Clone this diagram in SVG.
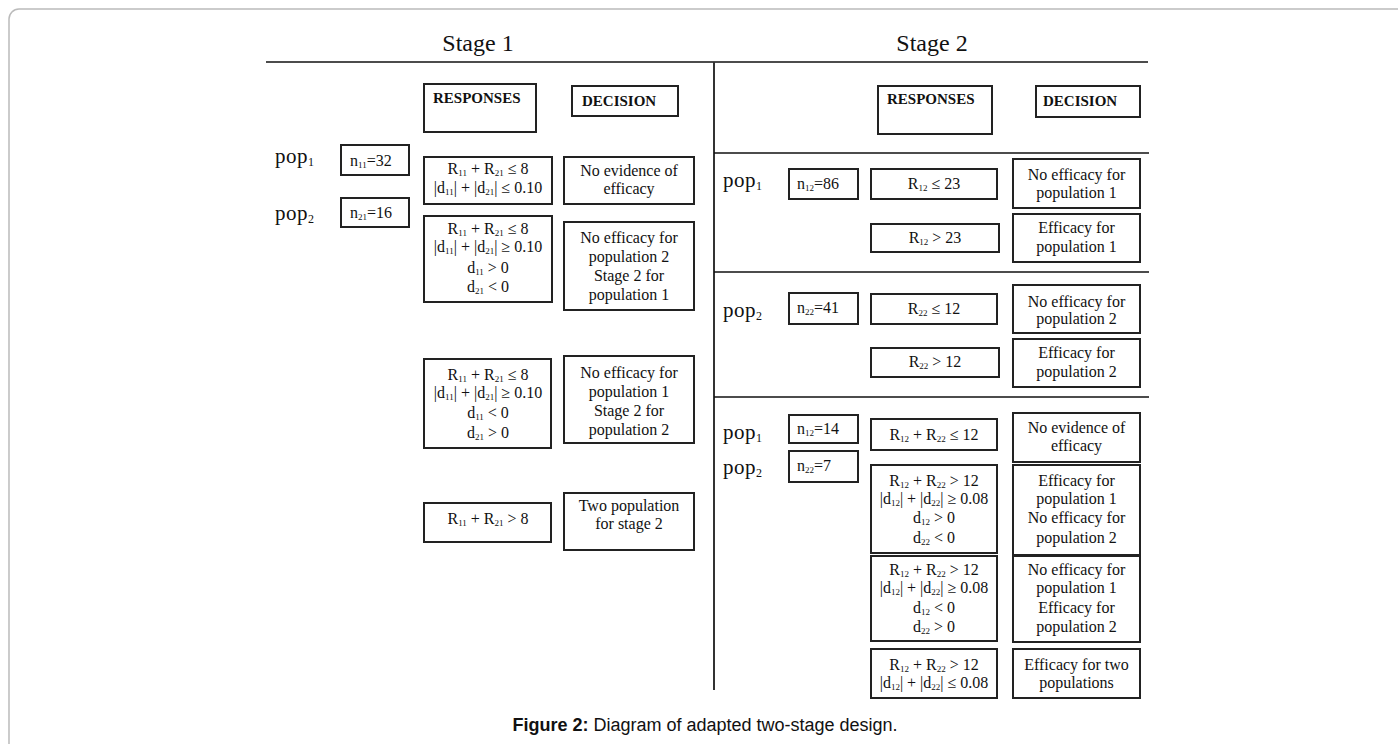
<svg xmlns="http://www.w3.org/2000/svg" width="1398" height="744" viewBox="0 0 1398 744">
<style>
.bx{fill:#fff;stroke:#222;stroke-width:2}
.t{font-family:"Liberation Serif",serif;font-size:16px;fill:#111}
.c{text-anchor:middle}
.h{font-family:"Liberation Serif",serif;font-size:15px;font-weight:bold;fill:#111}
.st{font-family:"Liberation Serif",serif;font-size:24px;fill:#111;text-anchor:middle}
.pop{font-family:"Liberation Serif",serif;font-size:21px;fill:#111;letter-spacing:0.5px}
.s{font-size:9px;baseline-shift:-2px}
.ps{font-size:12px;baseline-shift:-3px}
.ln{stroke:#111;stroke-width:1.6;fill:none}
.cap{font-family:"Liberation Sans",Arial,sans-serif;font-size:18px;fill:#111;text-anchor:middle}
</style>
<rect x="9" y="9" width="1420" height="770" rx="10" fill="#fff" stroke="#bbb" stroke-width="1.5"/>
<g id="connectors">
<line class="ln" x1="266" y1="62" x2="1148" y2="62"/>
<line x1="714" y1="62" x2="714" y2="690" stroke="#333" stroke-width="2"/>
<line class="ln" x1="714" y1="153" x2="1149" y2="153"/>
<line class="ln" x1="714" y1="272" x2="1149" y2="272"/>
<line class="ln" x1="714" y1="397" x2="1149" y2="397"/>
</g>
<g id="headers">
<text class="st" x="478" y="51">Stage 1</text>
<text class="st" x="932" y="51">Stage 2</text>
</g>
<g id="s1-responses-head"><rect class="bx" x="424" y="84" width="112" height="48"/><text class="h" x="433" y="103">RESPONSES</text></g>
<g id="s1-decision-head"><rect class="bx" x="572" y="86" width="106" height="30"/><text class="h" x="582" y="106">DECISION</text></g>
<g id="s2-responses-head"><rect class="bx" x="878" y="86" width="114" height="48"/><text class="h" x="887" y="104">RESPONSES</text></g>
<g id="s2-decision-head"><rect class="bx" x="1036" y="86" width="104" height="31"/><text class="h" x="1043" y="106">DECISION</text></g>

<g id="s1-pop1"><text class="pop" x="275" y="163">pop<tspan class="ps">1</tspan></text></g>
<g id="s1-pop2"><text class="pop" x="275" y="220">pop<tspan class="ps">2</tspan></text></g>
<g id="s1-n11"><rect class="bx" x="341" y="145" width="68" height="30"/><text class="t" x="350" y="166">n<tspan class="s">11</tspan>=32</text></g>
<g id="s1-n21"><rect class="bx" x="341" y="198" width="68" height="29"/><text class="t" x="350" y="218">n<tspan class="s">21</tspan>=16</text></g>

<g id="s1-r1"><rect class="bx" x="424" y="157" width="128" height="47"/>
<text class="t c" x="488" y="174">R<tspan class="s">11</tspan> + R<tspan class="s">21</tspan> ≤ 8</text>
<text class="t c" x="488" y="193">|d<tspan class="s">11</tspan>| + |d<tspan class="s">21</tspan>| ≤ 0.10</text></g>
<g id="s1-d1"><rect class="bx" x="564" y="157" width="130" height="47"/>
<text class="t c" x="629" y="176">No evidence of</text><text class="t c" x="629" y="194">efficacy</text></g>

<g id="s1-r2"><rect class="bx" x="424" y="216" width="128" height="86"/>
<text class="t c" x="488" y="234">R<tspan class="s">11</tspan> + R<tspan class="s">21</tspan> ≤ 8</text>
<text class="t c" x="488" y="252">|d<tspan class="s">11</tspan>| + |d<tspan class="s">21</tspan>| ≥ 0.10</text>
<text class="t c" x="488" y="273">d<tspan class="s">11</tspan> &gt; 0</text>
<text class="t c" x="488" y="292">d<tspan class="s">21</tspan> &lt; 0</text></g>
<g id="s1-d2"><rect class="bx" x="564" y="222" width="130" height="88"/>
<text class="t c" x="629" y="243">No efficacy for</text><text class="t c" x="629" y="262">population 2</text>
<text class="t c" x="629" y="281">Stage 2 for</text><text class="t c" x="629" y="300">population 1</text></g>

<g id="s1-r3"><rect class="bx" x="424" y="359" width="127" height="89"/>
<text class="t c" x="488" y="380">R<tspan class="s">11</tspan> + R<tspan class="s">21</tspan> ≤ 8</text>
<text class="t c" x="488" y="398">|d<tspan class="s">11</tspan>| + |d<tspan class="s">21</tspan>| ≥ 0.10</text>
<text class="t c" x="488" y="418">d<tspan class="s">11</tspan> &lt; 0</text>
<text class="t c" x="488" y="438">d<tspan class="s">21</tspan> &gt; 0</text></g>
<g id="s1-d3"><rect class="bx" x="564" y="356" width="130" height="87"/>
<text class="t c" x="629" y="378">No efficacy for</text><text class="t c" x="629" y="397">population 1</text>
<text class="t c" x="629" y="416">Stage 2 for</text><text class="t c" x="629" y="435">population 2</text></g>

<g id="s1-r4"><rect class="bx" x="424" y="503" width="127" height="39"/>
<text class="t c" x="488" y="524">R<tspan class="s">11</tspan> + R<tspan class="s">21</tspan> &gt; 8</text></g>
<g id="s1-d4"><rect class="bx" x="564" y="493" width="130" height="57"/>
<text class="t c" x="629" y="511">Two population</text><text class="t c" x="629" y="529">for stage 2</text></g>

<g id="s2a-pop1"><text class="pop" x="723" y="187">pop<tspan class="ps">1</tspan></text></g>
<g id="s2a-n12"><rect class="bx" x="789" y="169" width="69" height="30"/><text class="t" x="797" y="189">n<tspan class="s">12</tspan>=86</text></g>
<g id="s2a-r1"><rect class="bx" x="871" y="169" width="126" height="30"/><text class="t c" x="934" y="189">R<tspan class="s">12</tspan> ≤ 23</text></g>
<g id="s2a-d1"><rect class="bx" x="1013" y="159" width="127" height="49"/>
<text class="t c" x="1076.5" y="180">No efficacy for</text><text class="t c" x="1076.5" y="198">population 1</text></g>
<g id="s2a-r2"><rect class="bx" x="871" y="224" width="128" height="28"/><text class="t c" x="935" y="243">R<tspan class="s">12</tspan> &gt; 23</text></g>
<g id="s2a-d2"><rect class="bx" x="1013" y="214" width="127" height="48"/>
<text class="t c" x="1076.5" y="233">Efficacy for</text><text class="t c" x="1076.5" y="252">population 1</text></g>

<g id="s2b-pop2"><text class="pop" x="723" y="317">pop<tspan class="ps">2</tspan></text></g>
<g id="s2b-n22"><rect class="bx" x="789" y="293" width="69" height="31"/><text class="t" x="797" y="313">n<tspan class="s">22</tspan>=41</text></g>
<g id="s2b-r1"><rect class="bx" x="871" y="294" width="126" height="30"/><text class="t c" x="934" y="314">R<tspan class="s">22</tspan> ≤ 12</text></g>
<g id="s2b-d1"><rect class="bx" x="1013" y="285" width="127" height="48"/>
<text class="t c" x="1076.5" y="307">No efficacy for</text><text class="t c" x="1076.5" y="324">population 2</text></g>
<g id="s2b-r2"><rect class="bx" x="871" y="348" width="128" height="29"/><text class="t c" x="935" y="367">R<tspan class="s">22</tspan> &gt; 12</text></g>
<g id="s2b-d2"><rect class="bx" x="1013" y="339" width="127" height="48"/>
<text class="t c" x="1076.5" y="358">Efficacy for</text><text class="t c" x="1076.5" y="377">population 2</text></g>

<g id="s2c-pop1"><text class="pop" x="723" y="439">pop<tspan class="ps">1</tspan></text></g>
<g id="s2c-pop2"><text class="pop" x="723" y="474">pop<tspan class="ps">2</tspan></text></g>
<g id="s2c-n12"><rect class="bx" x="789" y="415" width="69" height="28"/><text class="t" x="797" y="434">n<tspan class="s">12</tspan>=14</text></g>
<g id="s2c-n22"><rect class="bx" x="789" y="451" width="69" height="31"/><text class="t" x="797" y="471">n<tspan class="s">22</tspan>=7</text></g>
<g id="s2c-r1"><rect class="bx" x="871" y="419" width="126" height="31"/>
<text class="t c" x="934" y="440">R<tspan class="s">12</tspan> + R<tspan class="s">22</tspan> ≤ 12</text></g>
<g id="s2c-d1"><rect class="bx" x="1013" y="413" width="127" height="49"/>
<text class="t c" x="1076.5" y="433">No evidence of</text><text class="t c" x="1076.5" y="451">efficacy</text></g>
<g id="s2c-r2"><rect class="bx" x="871" y="465" width="126" height="88"/>
<text class="t c" x="934" y="486">R<tspan class="s">12</tspan> + R<tspan class="s">22</tspan> &gt; 12</text>
<text class="t c" x="934" y="504">|d<tspan class="s">12</tspan>| + |d<tspan class="s">22</tspan>| ≥ 0.08</text>
<text class="t c" x="934" y="523">d<tspan class="s">12</tspan> &gt; 0</text>
<text class="t c" x="934" y="543">d<tspan class="s">22</tspan> &lt; 0</text></g>
<g id="s2c-d2"><rect class="bx" x="1013" y="465" width="127" height="90"/>
<text class="t c" x="1076.5" y="486">Efficacy for</text><text class="t c" x="1076.5" y="504">population 1</text>
<text class="t c" x="1076.5" y="523">No efficacy for</text><text class="t c" x="1076.5" y="543">population 2</text></g>
<g id="s2c-r3"><rect class="bx" x="871" y="556" width="126" height="85"/>
<text class="t c" x="934" y="575">R<tspan class="s">12</tspan> + R<tspan class="s">22</tspan> &gt; 12</text>
<text class="t c" x="934" y="593">|d<tspan class="s">12</tspan>| + |d<tspan class="s">22</tspan>| ≥ 0.08</text>
<text class="t c" x="934" y="613">d<tspan class="s">12</tspan> &lt; 0</text>
<text class="t c" x="934" y="632">d<tspan class="s">22</tspan> &gt; 0</text></g>
<g id="s2c-d3"><rect class="bx" x="1013" y="556" width="127" height="86"/>
<text class="t c" x="1076.5" y="575">No efficacy for</text><text class="t c" x="1076.5" y="593">population 1</text>
<text class="t c" x="1076.5" y="613">Efficacy for</text><text class="t c" x="1076.5" y="632">population 2</text></g>
<g id="s2c-r4"><rect class="bx" x="871" y="649" width="126" height="49"/>
<text class="t c" x="934" y="670">R<tspan class="s">12</tspan> + R<tspan class="s">22</tspan> &gt; 12</text>
<text class="t c" x="934" y="688">|d<tspan class="s">12</tspan>| + |d<tspan class="s">22</tspan>| ≤ 0.08</text></g>
<g id="s2c-d4"><rect class="bx" x="1013" y="649" width="127" height="49"/>
<text class="t c" x="1076.5" y="670">Efficacy for two</text><text class="t c" x="1076.5" y="688">populations</text></g>

<g id="caption"><text class="cap" x="705" y="731"><tspan font-weight="bold">Figure 2:</tspan>  Diagram of adapted two-stage design.</text></g>
</svg>
